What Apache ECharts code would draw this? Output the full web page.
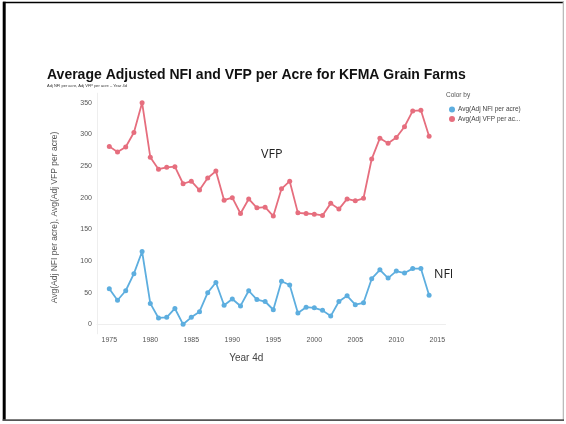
<!DOCTYPE html>
<html>
<head>
<meta charset="utf-8">
<script src="https://cdn.jsdelivr.net/npm/echarts@6/dist/echarts.min.js"></script>
<style>html,body{margin:0;padding:0;background:#fff;}#c{width:566px;height:424px;}</style>
</head>
<body>
<div id="c"></div>
<script>
var years = [1975,1976,1977,1978,1979,1980,1981,1982,1983,1984,1985,1986,1987,1988,1989,1990,1991,1992,1993,1994,1995,1996,1997,1998,1999,2000,2001,2002,2003,2004,2005,2006,2007,2008,2009,2010,2011,2012,2013,2014];
var nfi = [56,38,53,80,115,33,10,11,25,0,11,20,50,66,30,40,29,53,39,36,23,68,62,18,27,26,22,13,36,45,31,34,72,86,73,84,81,88,88,46];
var vfp = [281,272,280,303,350,264,245,248,249,222,226,212,231,242,196,200,175,198,184,185,171,214,226,176,175,174,172,191,182,198,195,199,261,294,286,295,312,337,338,297];
var xTicks = [1975,1980,1985,1990,1995,2000,2005,2010,2015];
var yTicks = [0,50,100,150,200,250,300,350];
var seriesNames = ['Avg(Adj NFI per acre)','Avg(Adj VFP per acre)'];
var legendLabels = ['Avg(Adj NFI per acre)','Avg(Adj VFP per ac...'];

var chart = echarts.init(document.getElementById('c'), null, {renderer:'canvas'});
function pairs(v){ return years.map(function(y,i){ return [y, v[i]]; }); }
var font = 'Liberation Sans, Arial, sans-serif';
chart.setOption({
  animation:false,
  backgroundColor:'#fff',
  title:{
    text:'Average Adjusted NFI and VFP per Acre for KFMA Grain Farms',
    subtext:'Adj NFI per acre, Adj VFP per acre \u2013 Year 4d',
    left:47, top:68, itemGap:2, padding:0,
    textStyle:{fontFamily:font, fontWeight:'bold', fontSize:14, color:'#111'},
    subtextStyle:{fontFamily:font, fontSize:4, color:'#333'}
  },
  legend:{
    orient:'vertical', left:444, top:101, itemWidth:6, itemHeight:6, itemGap:2.5,
    icon:'circle', data:seriesNames,
    formatter:function(n){ return legendLabels[seriesNames.indexOf(n)]; },
    textStyle:{fontFamily:font, fontSize:6.5, color:'#444', padding:[0,0,0,-2]}
  },
  grid:{left:97, right:120.5, top:93.2, bottom:90.2},
  xAxis:{
    type:'value', min:1973.5, max:2016,
    name:'Year 4d', nameLocation:'middle', nameGap:19,
    nameTextStyle:{fontFamily:font, fontSize:10, color:'#444', padding:[0,50,0,0]},
    axisLine:{show:true, lineStyle:{color:'#eeeeee'}},
    axisTick:{show:false},
    splitLine:{show:false},
    axisLabel:{customValues:xTicks, formatter:function(v){ return String(v); }, fontFamily:font, fontSize:7, color:'#555', margin:3}
  },
  yAxis:{
    type:'value', min:-15, max:365,
    name:'Avg(Adj NFI per acre), Avg(Adj VFP per acre)', nameLocation:'middle', nameGap:38, nameRotate:90,
    nameTextStyle:{fontFamily:font, fontSize:8.5, color:'#555', padding:[0,8,0,0]},
    axisLine:{show:true, lineStyle:{color:'#eeeeee'}},
    axisTick:{show:false},
    splitLine:{show:false},
    axisLabel:{customValues:yTicks, formatter:function(v){ return String(v); }, fontFamily:font, fontSize:7, color:'#555', margin:5}
  },
  series:[
    {name:seriesNames[0], type:'line', data:pairs(nfi), symbol:'circle', symbolSize:5, color:'#5DAEDF', lineStyle:{width:1.8}},
    {name:seriesNames[1], type:'line', data:pairs(vfp), symbol:'circle', symbolSize:5, color:'#E66E7E', lineStyle:{width:1.8}}
  ],
  graphic:[
    {type:'text', left:446, top:92, style:{text:'Color by', font:'6.5px '+font, fill:'#555'}},
    {type:'text', left:261, top:148, style:{text:'VFP', font:'12.5px "Open Sans", sans-serif', fill:'#222'}},
    {type:'text', left:434, top:268, style:{text:'NFI', font:'12.5px "Open Sans", sans-serif', fill:'#222'}},
    {type:'rect', shape:{x:3, y:1.7, width:561, height:1.6}, style:{fill:'#000'}},
    {type:'rect', shape:{x:2.7, y:1.7, width:3, height:419}, style:{fill:'#000'}},
    {type:'rect', shape:{x:562.7, y:1.7, width:1.3, height:419}, style:{fill:'#bbb'}},
    {type:'rect', shape:{x:2.7, y:419.3, width:561.3, height:1.7}, style:{fill:'#555'}}
  ]
});
</script>
</body>
</html>
